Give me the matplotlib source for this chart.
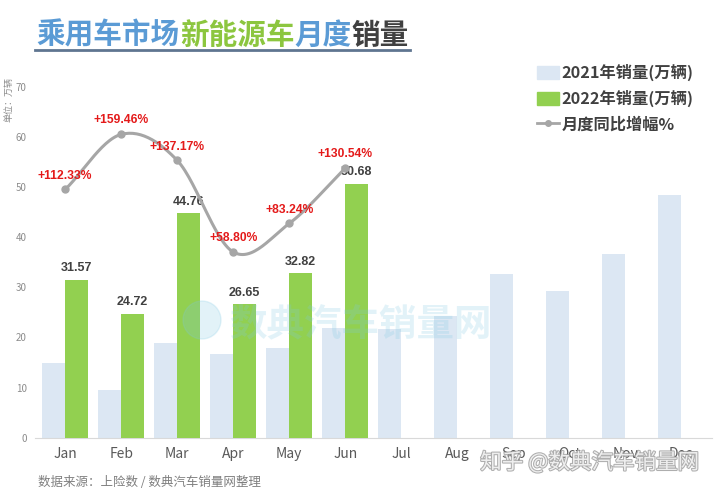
import numpy as np
import matplotlib
matplotlib.use("Agg")
import matplotlib.pyplot as plt
import matplotlib.patheffects as pe
from matplotlib.patches import Patch, Ellipse
from matplotlib.lines import Line2D

plt.rcParams['font.family'] = ['Noto Sans CJK SC', 'DejaVu Sans']

# data
months = ['Jan', 'Feb', 'Mar', 'Apr', 'May', 'Jun', 'Jul', 'Aug', 'Sep', 'Oct', 'Nov', 'Dec']
sales_2021 = [14.87, 9.53, 18.87, 16.78, 17.91, 21.98, 21.6, 24.2, 32.6, 29.3, 36.7, 48.5]
sales_2022 = [31.57, 24.72, 44.76, 26.65, 32.82, 50.68]
growth = [112.33, 159.46, 137.17, 58.80, 83.24, 130.54]

C21 = '#DCE7F3'
C22 = '#92D050'
GRAY_LINE = '#A6A6A6'
RED = '#E41A1A'
DARK = '#404040'
NUM_FONT = ['Liberation Sans', 'DejaVu Sans']


def catmull_rom(xs, ys, n=30):
    # smooth curve through the points (Excel style smoothed line)
    xs = np.asarray(xs, float)
    ys = np.asarray(ys, float)
    px = np.concatenate([[2 * xs[0] - xs[1]], xs, [2 * xs[-1] - xs[-2]]])
    py = np.concatenate([[2 * ys[0] - ys[1]], ys, [2 * ys[-1] - ys[-2]]])
    outx, outy = [], []
    t = np.linspace(0, 1, n)
    for i in range(1, len(px) - 2):
        for p, out in ((px, outx), (py, outy)):
            p0, p1, p2, p3 = p[i - 1], p[i], p[i + 1], p[i + 2]
            seg = 0.5 * ((2 * p1) + (-p0 + p2) * t +
                         (2 * p0 - 5 * p1 + 4 * p2 - p3) * t ** 2 +
                         (-p0 + 3 * p1 - 3 * p2 + p3) * t ** 3)
            out.extend(seg)
    return np.array(outx), np.array(outy)


fig = plt.figure(figsize=(7.2, 4.95), dpi=100)
ax = fig.add_axes([0.0486, 0.1158, 0.9404, 0.7085])

x = np.arange(len(months))
w = 0.41
ax.bar(x - w / 2, sales_2021, w, color=C21, zorder=2)
x22 = np.arange(len(sales_2022))
ax.bar(x22 + w / 2, sales_2022, w, color=C22, zorder=3)
for xi, v in zip(x22, sales_2022):
    ax.annotate(f'{v:.2f}', (xi + w / 2, v), xytext=(0, 4), textcoords='offset points',
                ha='center', va='bottom', fontsize=9, fontweight='bold', color=DARK,
                family=NUM_FONT, zorder=5)

ax.set_xlim(-0.54, 11.55)
ax.set_ylim(0, 70)
ax.set_yticks(range(0, 71, 10))
ax.set_xticks(x)
ax.set_xticklabels(months)
ax.tick_params(axis='y', length=0, labelsize=7, colors='#8C8C8C', pad=6)
ax.tick_params(axis='x', length=0, labelsize=10, colors='#595959', pad=7)
for s in ['top', 'right', 'left']:
    ax.spines[s].set_visible(False)
ax.spines['bottom'].set_color('#D9D9D9')

# growth line on hidden secondary axis
ax2 = ax.twinx()
ax2.set_ylim(-100, 200)
ax2.axis('off')
sx, sy = catmull_rom(x22, growth)
ax2.plot(sx, sy, color=GRAY_LINE, lw=2.2, zorder=4, solid_capstyle='round')
ax2.plot(x22, growth, 'o', color=GRAY_LINE, ms=5, zorder=4)
for xi, g in zip(x22, growth):
    ax2.annotate(f'+{g:.2f}%', (xi, g), xytext=(0, 10), textcoords='offset points',
                 ha='center', va='center', fontsize=8.7, fontweight='bold', color=RED,
                 family=NUM_FONT, zorder=6)

# legend
handles = [Patch(color=C21), Patch(color=C22),
           Line2D([], [], color=GRAY_LINE, lw=2, marker='o', ms=4)]
labels = ['2021年销量(万辆)', '2022年销量(万辆)', '月度同比增幅%']
leg = fig.legend(handles, labels, loc='upper left', bbox_to_anchor=(0.725, 0.9),
                 frameon=False, fontsize=11.7, handlelength=1.4, handleheight=0.8,
                 handletextpad=0.15, labelspacing=0.55)
for t in leg.get_texts():
    t.set_color(DARK)
    t.set_fontweight('bold')

# title
parts = [('乘用车市场', '#5B9BD5'), ('新能源车', '#8CC63F'), ('月度', '#5B9BD5'), ('销量', '#404040')]
tx = 0.051
renderer = fig.canvas.get_renderer()
for s, c in parts:
    t = fig.text(tx, 0.93, s, fontsize=20.6, fontweight='bold', color=c, va='center', ha='left')
    bb = t.get_window_extent(renderer=renderer)
    tx += bb.width / fig.bbox.width
fig.add_artist(Line2D([0.049, 0.57], [0.899, 0.899], color='#5F7590', lw=2, transform=fig.transFigure))

# unit label
fig.text(0.012, 0.80, '单位：万辆', rotation=90, fontsize=6.5, color='#8C8C8C', va='center', ha='center')

# source
fig.text(0.053, 0.025, '数据来源：上险数 / 数典汽车销量网整理', fontsize=9, color='#7F7F7F', va='center')

# watermarks
fig.text(0.318, 0.343, '数典汽车销量网', fontsize=27, fontweight='bold', color='#7EC8E3', alpha=0.22,
         va='center', ha='left')
fig.add_artist(Ellipse((202 / 720, 1 - 320 / 495), 38 / 720, 38 / 495, transform=fig.transFigure,
                       color='#7EC8E3', alpha=0.22))
fig.text(0.667, 0.065, '知乎 @数典汽车销量网', fontsize=15.5, color='white', va='center', ha='left',
         alpha=0.8, path_effects=[pe.withStroke(linewidth=1.5, foreground='#9A9A9A')])

fig.savefig('out.png', dpi=100)
